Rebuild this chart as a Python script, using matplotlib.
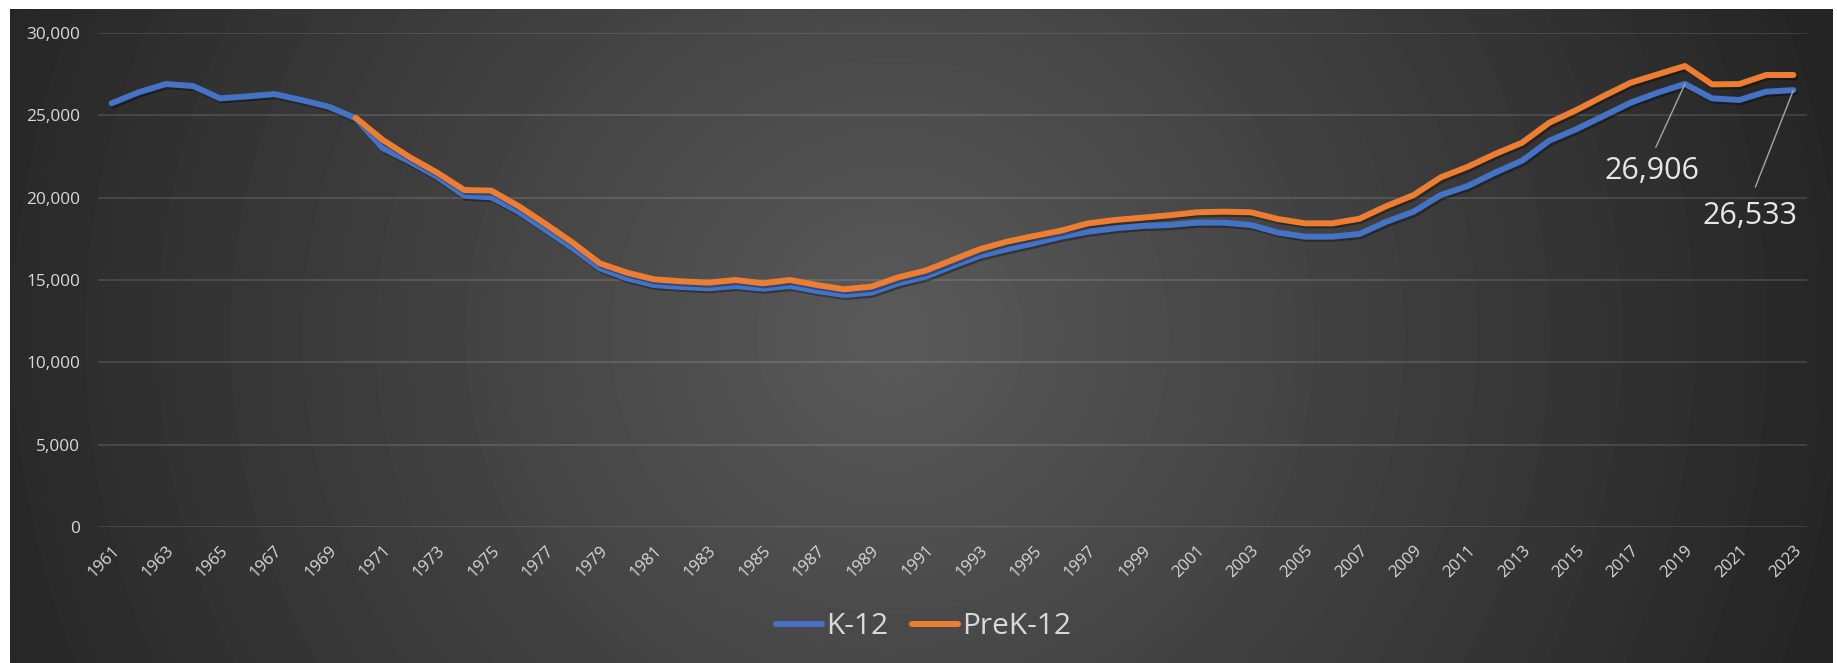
import numpy as np
import matplotlib.pyplot as plt
import matplotlib.patheffects as pe
from matplotlib.ticker import FuncFormatter

plt.rcParams['font.family'] = ['Open Sans', 'DejaVu Sans']

years = list(range(1961, 2024))

# K-12 series, 1961-2023
k12 = [25730, 26400, 26900, 26780, 26030, 26150, 26290, 25930, 25525, 24820,
       23000, 22180, 21270, 20120, 20020, 19150, 18035, 16925, 15710, 15100,
       14695, 14575, 14495, 14635, 14475, 14635, 14330, 14090, 14230, 14800,
       15200, 15850, 16470, 16865, 17230, 17630, 17935, 18140, 18280, 18340,
       18480, 18480, 18340, 17880, 17630, 17630, 17795, 18540, 19150, 20160,
       20710, 21520, 22245, 23460, 24160, 24960, 25770, 26380, 26906, 26030,
       25930, 26435, 26533]

# PreK-12 series, starts in 1970
prek12 = [np.nan] * 9 + [
    24850, 23500, 22450, 21520, 20465, 20425, 19490, 18400, 17265, 16010,
    15445, 15040, 14920, 14840, 15000, 14800, 15000, 14695, 14435, 14595,
    15160, 15565, 16215, 16865, 17325, 17670, 17995, 18440, 18645, 18785,
    18930, 19110, 19150, 19110, 18700, 18440, 18440, 18720, 19490, 20160,
    21235, 21880, 22650, 23340, 24550, 25320, 26170, 26980, 27490, 27995,
    26880, 26900, 27450, 27450]

labelled = [(2019, 26906), (2023, 26533)]

W, H = 1837, 663
fig = plt.figure(figsize=(W / 100, H / 100), dpi=100)
fig.patch.set_facecolor('white')

# radial dark gradient behind the chart
bg = fig.add_axes([10 / W, 0, (1833 - 10) / W, (H - 9) / H], zorder=-10)
gx, gy = np.meshgrid(np.linspace(0, 1823, 400), np.linspace(0, 654, 150))
d = np.hypot(gx - 880, gy - 327) / np.hypot(911, 327)
shade = (90 - 53 * np.clip(d, 0, 1)) / 255
bg.imshow(shade, cmap='gray', vmin=0, vmax=1, aspect='auto',
          extent=(0, 1, 0, 1), interpolation='bicubic')
bg.axis('off')

ax = fig.add_axes([98 / W, 1 - 527 / H, (1807 - 98) / W, (527 - 33) / H])
ax.patch.set_alpha(0)

x = np.arange(len(years))
shadow = [pe.SimpleLineShadow(offset=(1.2, -1.5), shadow_color='black', alpha=0.35),
          pe.Normal()]
ax.plot(x, k12, color='#4472C4', lw=4.3, solid_capstyle='round',
        solid_joinstyle='round', label='K-12', path_effects=shadow, zorder=3)
ax.plot(x, prek12, color='#ED7D31', lw=4.3, solid_capstyle='round',
        solid_joinstyle='round', label='PreK-12', path_effects=shadow, zorder=4)

ax.set_xlim(-0.5, len(years) - 0.5)
ax.set_ylim(0, 30000)
ax.set_yticks(range(0, 30001, 5000))
ax.yaxis.set_major_formatter(FuncFormatter(lambda v, p: f'{v:,.0f}'))
ax.set_xticks(x[::2])
ax.set_xticklabels([str(y) for y in years[::2]], rotation=45, ha='right',
                   va='top', rotation_mode='anchor')

ax.grid(axis='y', color='white', alpha=0.13, lw=1.3)
ax.set_axisbelow(True)
for s in ax.spines.values():
    s.set_visible(False)
ax.tick_params(axis='both', length=0, colors='#d9d9d9')
ax.tick_params(axis='y', labelsize=12.4, pad=13)
ax.tick_params(axis='x', labelsize=12, pad=11)

offsets = [(-24, -63), (-31.5, -91)]
shrinks = [5, 9]
for (yr, val), off, sh in zip(labelled, offsets, shrinks):
    ax.annotate(f'{val:,}', xy=(years.index(yr), val), xytext=off,
                textcoords='offset points', ha='center', va='center',
                fontsize=22, color='#e6e6e6',
                arrowprops=dict(arrowstyle='-', color='#a6a6a6', lw=1,
                                relpos=(0.5, 1.0), shrinkA=sh, shrinkB=0))

leg = fig.legend(loc='center', bbox_to_anchor=(0.5027, 1 - 627 / H), ncol=2,
                 frameon=False, fontsize=21.5, handlelength=1.55,
                 handletextpad=0.12, columnspacing=0.8)
for t in leg.get_texts():
    t.set_color('#d9d9d9')
for h in leg.get_lines():
    h.set_linewidth(4.3)
    h.set_solid_capstyle('round')
    h.set_path_effects([])

fig.savefig('out.png', dpi=100)
